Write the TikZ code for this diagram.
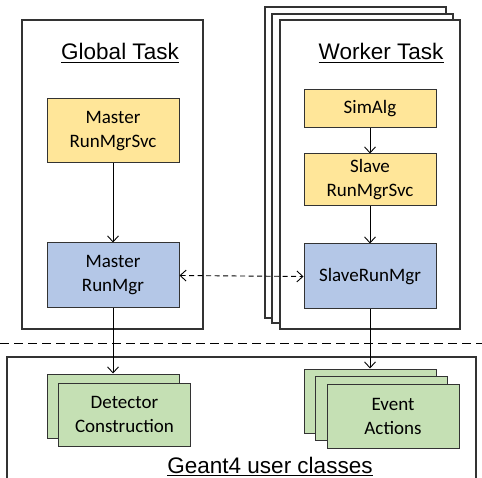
\documentclass[tikz,border=0pt]{standalone}
\usepackage{fontspec}
\setmainfont{Carlito}
\newfontfamily\titlefont{Liberation Sans}
\usetikzlibrary{arrows.meta}
\definecolor{yel}{HTML}{FFE699}
\definecolor{blu}{HTML}{B4C7E7}
\definecolor{grn}{HTML}{C5E0B4}
\definecolor{edge}{HTML}{333333}
\tikzset{
  box/.style={draw=edge, line width=1pt, minimum width=132pt, align=center, inner sep=0pt,
    font=\fontsize{19}{24}\selectfont},
  frame/.style={draw=edge, line width=1.1pt, fill=white},
  ttl/.style={font=\titlefont\fontsize{22.5}{26}\selectfont, inner sep=0pt, anchor=base},
  uline/.style={line width=1.7pt},
  arr/.style={line width=0.9pt, -{Straight Barb[length=6pt,width=11pt]}},
  darr/.style={line width=0.9pt, dashed, dash pattern=on 5pt off 3.5pt, {Straight Barb[length=6pt,width=11pt]}-{Straight Barb[length=6pt,width=11pt]}},
  sep/.style={line width=0.9pt, dash pattern=on 9pt off 5pt},
}
\begin{document}
\begin{tikzpicture}[x=1pt,y=-1pt]
\useasboundingbox (0,0) rectangle (482,478);
% frames
\draw[frame] (22,20) rectangle (203,329);
\draw[frame] (265,7) rectangle (446,318);
\draw[frame] (272,14) rectangle (453,323);
\draw[frame] (280,20) rectangle (460,329);
\draw[line width=1.1pt, draw=edge] (7,478) -- (7,357) -- (476,357) -- (476,478);
% titles
\node[ttl] (gt) at (120,60) {Global Task};
\draw[uline] ([yshift=-2.5pt]gt.base west) -- ([yshift=-2.5pt]gt.base east);
\node[ttl] (wt) at (381,60) {Worker Task};
\draw[uline] ([yshift=-2.5pt]wt.base west) -- ([yshift=-2.5pt]wt.base east);
\node[ttl] (gu) at (270,473) {Geant4 user classes};
\draw[uline] ([yshift=-2.5pt]gu.base west) -- ([yshift=-2.5pt]gu.base east);
% separator
\coordinate (sl) at (0,343);
\coordinate (sr) at (482,343);
\draw[sep] (sl) -- (sr);
% left boxes
\node[box, fill=yel, minimum height=64pt] (mrs) at (113,131) {Master\\RunMgrSvc};
\node[box, fill=blu, minimum height=65pt] (mrm) at (113,275.5) {Master\\RunMgr};
% right boxes
\node[box, fill=yel, minimum height=38pt] (sim) at (370,109) {SimAlg};
\node[box, fill=yel, minimum height=52pt] (srs) at (370,180) {Slave\\RunMgrSvc};
\node[box, fill=blu, minimum height=65pt] (srm) at (370,276.5) {SlaveRunMgr};
% detector construction
\node[box, fill=grn, minimum height=64pt] (dc1) at (113,406) {};
\node[box, fill=grn, minimum height=63pt] (dc2) at (124.5,414.5) {Detector\\Construction};
% event actions
\node[box, fill=grn, minimum height=64pt] (ea1) at (370,401) {};
\node[box, fill=grn, minimum height=64pt] (ea2) at (381.5,408.5) {};
\node[box, fill=grn, minimum height=64pt] (ea3) at (393,416) {Event\\Actions};
% arrows
\draw[arr] (mrs) -- (mrm);
\draw[arr] (mrm.south) -- (dc1.north);
\draw[arr] (sim) -- (srs);
\draw[arr] (srs) -- (srm);
\draw[arr] (srm.south) -- (ea1.north);
\draw[darr] (mrm.east) -- (srm.west);
\end{tikzpicture}
\end{document}
